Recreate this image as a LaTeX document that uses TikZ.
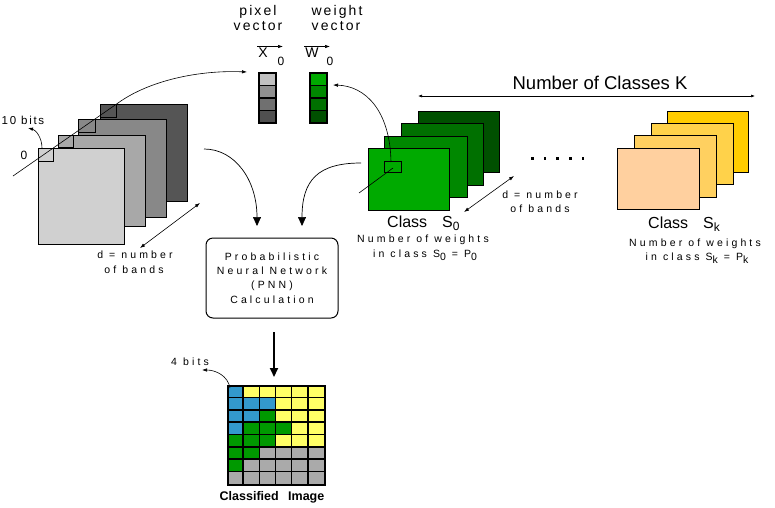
\documentclass[tikz,border=0pt]{standalone}
\usepackage{fontspec}
\setmainfont{Liberation Sans}
\newfontfamily\wfont[LetterSpace=30]{Liberation Sans}
\newfontfamily\mfont[LetterSpace=15]{Liberation Sans}
\usetikzlibrary{arrows.meta}
\definecolor{gA}{HTML}{D0D0D0}
\definecolor{gB}{HTML}{A8A8A8}
\definecolor{gC}{HTML}{888888}
\definecolor{gD}{HTML}{555555}
\definecolor{vA}{HTML}{C0C0C0}
\definecolor{vB}{HTML}{909090}
\definecolor{vC}{HTML}{707070}
\definecolor{vD}{HTML}{505050}
\definecolor{grA}{HTML}{00AA00}
\definecolor{grB}{HTML}{008800}
\definecolor{grC}{HTML}{007000}
\definecolor{grD}{HTML}{005000}
\definecolor{yA}{HTML}{FFD09F}
\definecolor{yB}{HTML}{FFD060}
\definecolor{yC}{HTML}{FFD24A}
\definecolor{yD}{HTML}{FFCC00}
\definecolor{cb}{HTML}{3399CC}
\definecolor{cy}{HTML}{FFFF66}
\definecolor{cg}{HTML}{009900}
\definecolor{cr}{HTML}{AAAAAA}
\tikzset{
  plane/.style={draw=black, line width=0.8pt, inner sep=0pt, outer sep=0pt, anchor=north west},
  vcell/.style={draw=black, line width=1.3pt, inner sep=0pt, outer sep=0pt, anchor=north west, minimum width=17pt, minimum height=12.5pt},
  smalltxt/.style={font=\wfont\fontsize{10.5}{12}\selectfont, inner sep=0pt},
  midtxt/.style={font=\mfont\fontsize{14}{16}\selectfont, inner sep=0pt},
  bigtxt/.style={font=\fontsize{16}{18}\selectfont, inner sep=0pt},
  thinarrow/.style={-{Latex[length=5pt,width=3.5pt]}, line width=0.6pt},
  bigarrow/.style={-{Triangle[length=9pt,width=8pt]}, line width=0.7pt},
  dblarrow/.style={{Latex[length=5pt,width=3.5pt]}-{Latex[length=5pt,width=3.5pt]}, line width=0.6pt},
}
\begin{document}
\begin{tikzpicture}[x=1pt,y=-1pt]
\useasboundingbox (0,0) rectangle (775,507);
\fill[white] (0,0) rectangle (775,507);

% ---------- left image stack ----------
\node[plane, fill=gD, minimum width=87pt, minimum height=97pt] (L4) at (100,104) {};
\node[plane, fill=gD, minimum width=16pt, minimum height=13pt] (l4) at (100,104) {};
\node[plane, fill=gC, minimum width=88pt, minimum height=98pt] (L3) at (78,119) {};
\node[plane, fill=gC, minimum width=17pt, minimum height=13pt] (l3) at (78,119) {};
\node[plane, fill=gB, minimum width=87pt, minimum height=91pt] (L2) at (58,135) {};
\node[plane, fill=gB, minimum width=15pt, minimum height=12pt] (l2) at (58,135) {};
\node[plane, fill=gA, minimum width=86pt, minimum height=96pt] (L1) at (38,148) {};
\node[plane, fill=gA, minimum width=15pt, minimum height=13pt] (l1) at (38,148) {};

\coordinate (lineS) at (13,176);
\coordinate (pixS) at (118,103);
\draw[line width=0.6pt] (lineS) -- (pixS);

\node[font=\mfont\fontsize{11.5}{12}\selectfont, inner sep=0pt] (tenbits) at (23,120) {10 bits};
\node[font=\fontsize{12}{12}\selectfont, inner sep=0pt] (zero) at (24,155) {0};
\coordinate (tbS) at (42,148);
\coordinate (tbE) at (28,128);
\draw[thinarrow] (tbS) .. controls (42,138) and (36,130) .. (tbE);

\coordinate (dLa) at (140,248);
\coordinate (dLb) at (200,203);
\draw[dblarrow] (dLa) -- (dLb);
\node[smalltxt] (dL1) at (135,255) {d = number};
\node[smalltxt] (dL2) at (134,270) {of bands};

% ---------- vectors ----------
\node[midtxt] (pix1) at (258,12) {pixel};
\node[midtxt] (pix2) at (258,26) {vector};
\node[midtxt] (wt1) at (337,12) {weight};
\node[midtxt] (wt2) at (336,26) {vector};

\node[vcell, fill=vA] (p1) at (259,73) {};
\node[vcell, fill=vB] (p2) at (259,85.5) {};
\node[vcell, fill=vC] (p3) at (259,98) {};
\node[vcell, fill=vD] (p4) at (259,110.5) {};
\node[vcell, fill=grA] (w1) at (310,73) {};
\node[vcell, fill=grB] (w2) at (310,85.5) {};
\node[vcell, fill=grC] (w3) at (310,98) {};
\node[vcell, fill=grD] (w4) at (310,110.5) {};

\node[font=\fontsize{14}{14}\selectfont, inner sep=0pt] (X) at (263,53) {X};
\node[font=\fontsize{12}{12}\selectfont, inner sep=0pt] (X0) at (281,61) {0};
\node[font=\fontsize{14}{14}\selectfont, inner sep=0pt] (W) at (312,53) {W};
\node[font=\fontsize{12}{12}\selectfont, inner sep=0pt] (W0) at (330,61) {0};
\coordinate (xa) at (257,46.5); \coordinate (xb) at (283,46.5);
\coordinate (wa) at (304,46.5); \coordinate (wb) at (330,46.5);
\draw[thinarrow] (xa) -- (xb);
\draw[thinarrow] (wa) -- (wb);

\coordinate (pixE) at (247,72);
\draw[thinarrow] (pixS) .. controls (150,80) and (200,70) .. (pixE);

% ---------- green class stack ----------
\node[plane, fill=grD, minimum width=81pt, minimum height=61pt] (G4) at (418,111) {};
\node[plane, fill=grC, minimum width=82pt, minimum height=62pt] (G3) at (401,123) {};
\node[plane, fill=grB, minimum width=83pt, minimum height=61pt] (G2) at (384,136) {};
\node[plane, fill=grA, minimum width=81pt, minimum height=62pt] (G1) at (368,148) {};
\node[plane, minimum width=17pt, minimum height=11pt] (gs) at (384,161) {};
\coordinate (gl) at (359,193);
\coordinate (gr) at (393,168);
\draw[line width=0.6pt] (gl) -- (gr);
\coordinate (wS) at (391,162);
\coordinate (wE) at (333,85);
\draw[thinarrow] (wS) .. controls (390,110) and (365,86) .. (wE);

\node[bigtxt, anchor=base west] (cls0) at (387,227) {Class\hspace{15pt}S\raisebox{-3.5pt}{\fontsize{12}{12}\selectfont 0}};
\node[smalltxt] (nw0) at (423,240) {Number of weights};
\node[smalltxt] (ic0) at (425,255) {in class S\raisebox{-2.5pt}{0} = P\raisebox{-2.5pt}{0}};

\coordinate (dRa) at (464,212);
\coordinate (dRb) at (514,176);
\draw[dblarrow] (dRa) -- (dRb);
\node[smalltxt] (dR1) at (540,195) {d = number};
\node[smalltxt] (dR2) at (540,209) {of bands};

\foreach \i in {0,...,4} \fill ({531+12.7*\i},157) rectangle ++(2.6,2.6);

% ---------- yellow class stack ----------
\node[plane, fill=yD, minimum width=81pt, minimum height=61pt] (Y4) at (667,111) {};
\node[plane, fill=yC, minimum width=82pt, minimum height=61pt] (Y3) at (651,123) {};
\node[plane, fill=yB, minimum width=82pt, minimum height=62pt] (Y2) at (634,135) {};
\node[plane, fill=yA, minimum width=82pt, minimum height=61pt] (Y1) at (617,148) {};
\node[bigtxt, anchor=base west] (clsk) at (648,228) {Class\hspace{15pt}S\raisebox{-3.5pt}{\fontsize{12}{12}\selectfont k}};
\node[smalltxt] (nwk) at (695,244) {Number of weights};
\node[smalltxt] (ick) at (697,258) {in class S\raisebox{-2.5pt}{k} = P\raisebox{-2.5pt}{k}};

% ---------- number of classes ----------
\node[font=\fontsize{18.5}{20}\selectfont, inner sep=0pt] (nck) at (600,83) {Number of Classes K};
\coordinate (ka) at (418,96);
\coordinate (kb) at (755,96);
\draw[{Latex[length=4pt,width=3pt]}-{Latex[length=4pt,width=3pt]}, line width=0.6pt] (ka) -- (kb);

% ---------- PNN ----------
\node[draw, line width=1pt, rounded corners=7pt, minimum width=132pt, minimum height=80pt, inner sep=0pt,
      font=\wfont\fontsize{10.5}{14.2}\selectfont, align=center] (pnn) at (272,278)
      {Probabilistic\\Neural Network\\(PNN)\\Calculation};
\coordinate (inL) at (257,226);
\coordinate (inR) at (302,226);
\coordinate (lS) at (204,149);
\coordinate (rS) at (361,163);
\draw[bigarrow] (lS) .. controls (235,149) and (257,180) .. (inL);
\draw[bigarrow] (rS) .. controls (318,163) and (302,180) .. (inR);
\coordinate (oS) at (274,332);
\coordinate (oE) at (274,377);
\draw[-{Triangle[length=9pt,width=8pt]}, line width=2pt] (oS) -- (oE);

% ---------- classified image ----------
\foreach \r/\lst in {0/{b,y,y,y,y,y},1/{b,b,b,y,y,y},2/{b,b,g,y,y,y},3/{b,g,g,g,y,y},
                     4/{g,g,g,y,y,y},5/{g,g,r,r,r,r},6/{g,r,r,r,r,r},7/{r,r,r,r,r,r}}{
  \foreach \c [count=\i from 0] in \lst {
    \fill[c\c] ({227+\i*16.17},{385+\r*12.375}) rectangle ++(16.17,12.375);
  }
}
\foreach \i in {1,...,5} \draw[line width=1.6pt] ({227+\i*16.17},385) -- ++(0,99);
\foreach \r in {1,...,7} \draw[line width=1.6pt] (227,{385+\r*12.375}) -- ++(97,0);
\node[draw, line width=1.6pt, minimum width=97pt, minimum height=99pt, inner sep=0pt, anchor=north west] (grid) at (227,385) {};
\node[smalltxt] (fourbits) at (190,362) {4 bits};
\coordinate (fbS) at (230,388);
\coordinate (fbE) at (202,370);
\draw[thinarrow] (fbS) .. controls (228,376) and (216,370) .. (fbE);
\node[font=\bfseries\fontsize{12.5}{14}\selectfont, inner sep=0pt] (cimg) at (272,497) {Classified\hspace{6pt} Image};
\end{tikzpicture}
\end{document}
